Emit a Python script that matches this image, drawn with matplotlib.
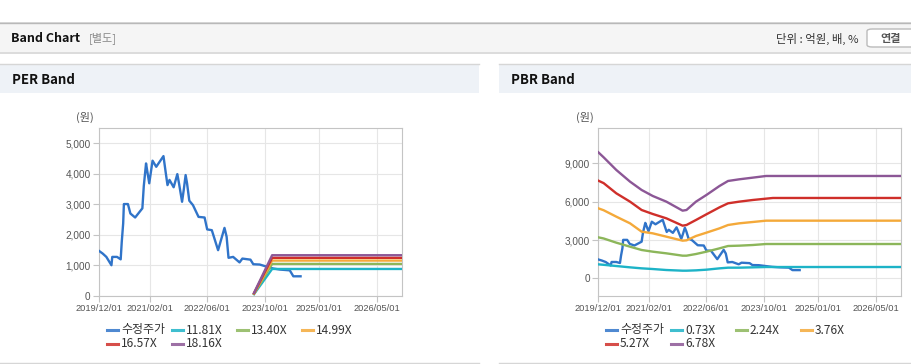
import matplotlib
matplotlib.use('Agg')
import matplotlib.pyplot as plt
import matplotlib.dates as mdates
from matplotlib.patches import Rectangle, FancyBboxPatch
from matplotlib.lines import Line2D
import numpy as np

plt.rcParams['font.family'] = ['Noto Sans CJK KR', 'DejaVu Sans']

# dades _____________________________________________________________________________________________________________
preu_dates = ['2019-12-01', '2020-01-01', '2020-02-01', '2020-03-15', '2020-03-22', '2020-05-01', '2020-06-01',
              '2020-06-10', '2020-06-22', '2020-06-28', '2020-08-01', '2020-08-22', '2020-10-01', '2020-12-01',
              '2020-12-13', '2021-01-01', '2021-01-10', '2021-01-28', '2021-02-25', '2021-03-28', '2021-05-28',
              '2021-06-15', '2021-07-01', '2021-07-18', '2021-08-22', '2021-09-22', '2021-10-06', '2021-11-01',
              '2021-11-15', '2021-12-01', '2021-12-13', '2022-01-01', '2022-02-01', '2022-03-20', '2022-05-10',
              '2022-06-01', '2022-07-10', '2022-09-01', '2022-10-25', '2022-11-12', '2022-11-28', '2023-01-06',
              '2023-03-01', '2023-03-25', '2023-06-01', '2023-06-25', '2023-08-18', '2023-10-04', '2023-11-12',
              '2023-12-10', '2024-02-06', '2024-04-28', '2024-05-28', '2024-07-28']
preu = [1477, 1390, 1280, 1007, 1280, 1280, 1200, 1770, 2375, 3010, 3010, 2700, 2570, 2870, 3600, 4340, 4120, 3690,
        4430, 4230, 4580, 4070, 3630, 3800, 3560, 3990, 3690, 3085, 3470, 3960, 3690, 3120, 2975, 2590, 2570, 2180,
        2155, 1500, 2230, 1940, 1250, 1280, 1100, 1225, 1190, 1040, 1030, 975, 930, 900, 865, 840, 645, 645]

per_noms = ['11.81X', '13.40X', '14.99X', '16.57X', '18.16X']
per_dates = ['2023-07-01', '2023-12-01', '2026-12-01']
per_bandes = {'11.81X': [60, 885, 885],
              '13.40X': [70, 1050, 1050],
              '14.99X': [80, 1160, 1160],
              '16.57X': [90, 1250, 1250],
              '18.16X': [100, 1335, 1335]}

pbr_noms = ['0.73X', '2.24X', '3.76X', '5.27X', '6.78X']
pbr_dates = ['2019-12-01', '2020-01-15', '2020-05-01', '2020-08-25', '2020-12-01', '2021-03-05', '2021-06-28',
             '2021-11-12', '2021-12-15', '2022-03-05', '2022-06-01', '2022-09-20', '2022-12-01', '2023-03-05',
             '2023-06-28', '2023-10-18', '2023-12-15', '2026-12-01']
pbr_bandes = {'0.73X': [1096, 1060, 965, 861, 783, 730, 652, 600, 600, 626, 678, 783, 835, 835, 861, 887, 887, 887],
              '2.24X': [3209, 3120, 2792, 2478, 2218, 2087, 1957, 1774, 1774, 1904, 2087, 2348, 2531, 2557, 2609,
                        2687, 2687, 2687],
              '3.76X': [5479, 5330, 4827, 4305, 3652, 3522, 3261, 2948, 2974, 3313, 3574, 3913, 4174, 4305, 4409,
                        4513, 4513, 4513],
              '5.27X': [7644, 7450, 6653, 6000, 5348, 5035, 4696, 4122, 4174, 4566, 5009, 5557, 5870, 6000, 6131,
                        6235, 6288, 6288],
              '6.78X': [9862, 9470, 8480, 7566, 6914, 6444, 6000, 5296, 5348, 6000, 6522, 7227, 7618, 7748, 7879,
                        8009, 8009, 8009]}

colors = ['#1db3c7', '#8cb65a', '#f4a93a', '#cf2f2a', '#8c5796']
color_preu = '#3074c9'

W, H = 912, 364


def fx(x):
    return x / W


def fy(y):
    return 1 - y / H


fig = plt.figure(figsize=(W / 100, H / 100), dpi=100)

# capçalera ______________________________________________________________________________________________________
fig.add_artist(Rectangle((0, fy(54)), 1, fy(22) - fy(54), transform=fig.transFigure, facecolor='#dcdcdc',
                         edgecolor='none'))
fig.add_artist(Rectangle((0, fy(52)), 1, fy(23) - fy(52), transform=fig.transFigure, facecolor='#f5f5f5',
                         edgecolor='none'))
fig.add_artist(Line2D([0, 1], [fy(22.5), fy(22.5)], transform=fig.transFigure, color='#b8b8b8', lw=1))
fig.text(fx(11), fy(38), 'Band Chart', fontsize=9, fontweight='bold', color='#111', va='center')
fig.text(fx(89), fy(38), '[별도]', fontsize=8, color='#888', va='center')
fig.text(fx(859), fy(39), '단위 : 억원, 배, %', fontsize=8.2, color='#333', va='center', ha='right')
fig.add_artist(FancyBboxPatch((fx(867), fy(47)), fx(60), fy(29) - fy(47), transform=fig.transFigure,
                              boxstyle='round,pad=0,rounding_size=0.006', facecolor='white', edgecolor='#bbbbbb',
                              lw=1))
fig.text(fx(891), fy(38.5), '연결', fontsize=8, color='#555', fontweight='bold', va='center', ha='center')

# panells ___________________________________________________________________________________________________________
for x0, x1, titol in [(0, 479, 'PER Band'), (499, 912, 'PBR Band')]:
    fig.add_artist(Rectangle((fx(x0), fy(93)), fx(x1 - x0), fy(64) - fy(93), transform=fig.transFigure,
                             facecolor='#eef2f7', edgecolor='none'))
    fig.add_artist(Line2D([fx(x0), fx(x1)], [fy(64), fy(64)], transform=fig.transFigure, color='#d6d6d6', lw=1))
    fig.add_artist(Line2D([fx(x0), fx(x1)], [fy(363), fy(363)], transform=fig.transFigure, color='#d6d6d6',
                          lw=1))
    fig.text(fx(x0 + 12), fy(80), titol, fontsize=9.5, fontweight='bold', color='#111', va='center')


def eix(rect, ylim, yticks, dates_b, bandes, noms, leg_x):
    ax = fig.add_axes([fx(rect[0]), fy(rect[3]), fx(rect[2] - rect[0]), fy(rect[1]) - fy(rect[3])])
    ax.plot(np.array(preu_dates, dtype='datetime64[D]'), preu, color=color_preu, lw=1.7, zorder=3)
    for nom, c in zip(noms, colors):
        ax.plot(np.array(dates_b, dtype='datetime64[D]'), bandes[nom], color=c, lw=1.7, zorder=4)
    ax.set_xlim(np.datetime64('2019-12-01'), np.datetime64('2026-12-01'))
    ax.set_ylim(*ylim)
    ax.set_yticks(yticks)
    ax.set_yticklabels([f'{v:,}' for v in yticks])
    xt = np.array(['2019-12-01', '2021-02-01', '2022-06-01', '2023-10-01', '2025-01-01', '2026-05-01'],
                  dtype='datetime64[D]')
    ax.set_xticks(xt)
    ax.xaxis.set_major_formatter(mdates.DateFormatter('%Y/%m/%d'))
    ax.grid(True, color='#e6e6e6', lw=0.8)
    ax.set_axisbelow(True)
    for s in ax.spines.values():
        s.set_color('#c4c4c4')
    ax.tick_params(axis='y', labelsize=7.2, colors='#c4c4c4', labelcolor='#555', length=4, pad=2)
    ax.tick_params(axis='x', labelsize=6.7, colors='#c4c4c4', labelcolor='#555', length=4, pad=2)
    for lbl in ax.get_xticklabels() + ax.get_yticklabels():
        lbl.set_family(['Liberation Sans', 'DejaVu Sans'])
    fig.text(fx(rect[0] - 5), fy(117.5), '(원)', fontsize=8, color='#555', va='center', ha='right')

    # llegenda
    entrades = [('수정주가', color_preu)] + list(zip(noms, colors))
    for k, (nom, c) in enumerate(entrades):
        fila, col = divmod(k, 4)
        tx = leg_x + 65 * col
        ty = 330 + 13.5 * fila
        fig.add_artist(Line2D([fx(tx - 14), fx(tx - 3)], [fy(ty), fy(ty)], transform=fig.transFigure, color=c,
                              lw=2.2, alpha=0.85))
        fig.text(fx(tx), fy(ty), nom, fontsize=8.6, color='#333', va='center')
    return ax


eix((99, 128, 402, 296), (0, 5500), [0, 1000, 2000, 3000, 4000, 5000], per_dates, per_bandes, per_noms, 121)
eix((598.3, 128.3, 901, 295.7), (-1357, 11739), [0, 3000, 6000, 9000], pbr_dates, pbr_bandes, pbr_noms, 620)

fig.savefig('out.png', dpi=100)
